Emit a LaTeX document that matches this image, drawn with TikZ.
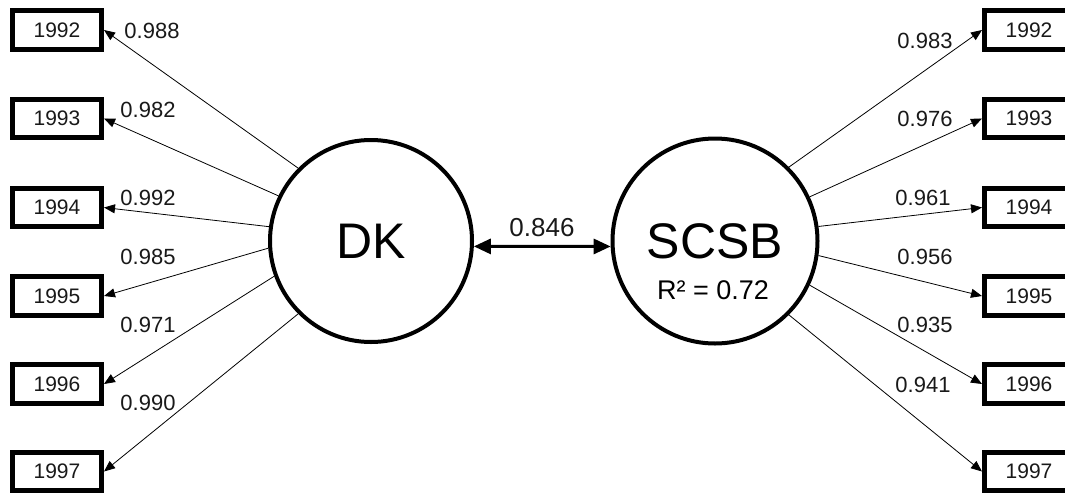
\documentclass[tikz,border=0pt]{standalone}
\usepackage{fontspec}
\setmainfont{Liberation Sans}
\usetikzlibrary{arrows.meta}
\begin{document}
\begin{tikzpicture}[x=1pt,y=-1pt,
  yearbox/.style={draw, line width=5pt, minimum width=89pt, minimum height=38.5pt, inner sep=0pt, font=\fontsize{21}{21}\selectfont, text=black!90},
  latent/.style={draw, circle, line width=4pt, inner sep=0pt, font=\fontsize{50}{50}\selectfont},
  load/.style={draw, line width=0.8pt, -{Triangle[length=11pt,width=9pt]}},
  coef/.style={font=\fontsize{22}{22}\selectfont, text=black!90, inner sep=0pt},
]
\useasboundingbox (0,0) rectangle (1065,493);
\clip (0,0) rectangle (1065,493);

\node[latent, minimum size=202pt] (dk) at (371,241) {DK};
\node[latent, minimum size=205pt] (scsb) at (715,241) {SCSB};
\node[font=\fontsize{27}{27}\selectfont, inner sep=0pt] (r2) at (713,290) {R² = 0.72};

\node[yearbox] (l1) at (57,30) {1992};
\node[yearbox] (l2) at (57,118.5) {1993};
\node[yearbox] (l3) at (57,207.5) {1994};
\node[yearbox] (l4) at (57,296) {1995};
\node[yearbox] (l5) at (57,384) {1996};
\node[yearbox] (l6) at (57,471.5) {1997};

\node[yearbox] (r1) at (1029,30) {1992};
\node[yearbox] (r2b) at (1029,118.5) {1993};
\node[yearbox] (r3) at (1029,207.5) {1994};
\node[yearbox] (r4) at (1029,296) {1995};
\node[yearbox] (r5) at (1029,384) {1996};
\node[yearbox] (r6) at (1029,471.5) {1997};

\draw[load] (dk.135) -- (l1.east);
\draw[load] (dk.154.5) -- (l2.east);
\draw[load] (dk.172) -- (l3.east);
\draw[load] (dk.184) -- (l4.east);
\draw[load] (dk.200) -- (l5.east);
\draw[load] (dk.225) -- (l6.east);

\draw[load] (scsb.45) -- (r1.west);
\draw[load] (scsb.25.5) -- (r2b.west);
\draw[load] (scsb.8) -- (r3.west);
\draw[load] (scsb.-8) -- (r4.west);
\draw[load] (scsb.-25.5) -- (r5.west);
\draw[load] (scsb.-45) -- (r6.west);

\draw[line width=3pt, {Triangle[length=17pt,width=15pt]}-{Triangle[length=17pt,width=15pt]}] (dk.-3.3) -- (scsb.183.3);
\node[coef, font=\fontsize{26}{26}\selectfont] (c0) at (542,228) {0.846};

\node[coef] (cl1) at (152,31) {0.988};
\node[coef] (cl2) at (148,110) {0.982};
\node[coef] (cl3) at (148,198) {0.992};
\node[coef] (cl4) at (148,257) {0.985};
\node[coef] (cl5) at (148,325) {0.971};
\node[coef] (cl6) at (148,403) {0.990};

\node[coef] (cr1) at (925,41) {0.983};
\node[coef] (cr2) at (925,119) {0.976};
\node[coef] (cr3) at (923,198) {0.961};
\node[coef] (cr4) at (925,257) {0.956};
\node[coef] (cr5) at (925,325) {0.935};
\node[coef] (cr6) at (923,385) {0.941};
\end{tikzpicture}
\end{document}
